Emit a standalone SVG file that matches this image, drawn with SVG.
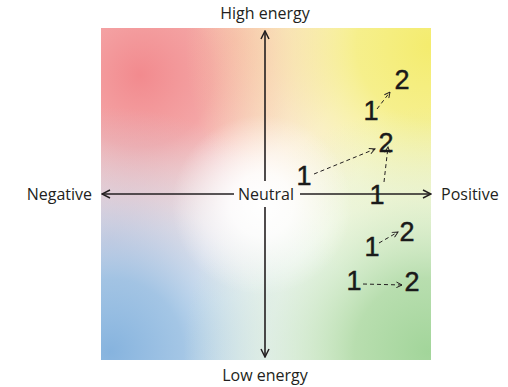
<svg xmlns="http://www.w3.org/2000/svg" width="508" height="387" viewBox="0 0 508 387">
<style>
.lbl{font-family:"Open Sans","Liberation Sans",sans-serif;font-size:16px;fill:#231f20}
.num{font-family:"Liberation Sans","DejaVu Sans",sans-serif;font-size:27px;fill:#1a1a1a;stroke:#1a1a1a;stroke-width:0.5}
.axis{stroke:#231f20;stroke-width:1.6;fill:none}
.dash{stroke:#231f20;stroke-width:1;stroke-dasharray:4 3;fill:none}
</style>
<defs>
<radialGradient id="gR" cx="140" cy="75" r="240" gradientUnits="userSpaceOnUse">
<stop offset="0" stop-color="#f28a8e"/><stop offset="0.3" stop-color="#f39e9f" stop-opacity="0.92"/><stop offset="0.65" stop-color="#f6bcb4" stop-opacity="0.4"/><stop offset="1" stop-color="#f6bcb4" stop-opacity="0"/>
</radialGradient>
<radialGradient id="gY" cx="430" cy="45" r="245" gradientUnits="userSpaceOnUse">
<stop offset="0" stop-color="#f4ec6e"/><stop offset="0.3" stop-color="#f5ee82" stop-opacity="0.92"/><stop offset="0.65" stop-color="#f8f2aa" stop-opacity="0.4"/><stop offset="1" stop-color="#f8f2aa" stop-opacity="0"/>
</radialGradient>
<radialGradient id="gB" cx="110" cy="352" r="245" gradientUnits="userSpaceOnUse">
<stop offset="0" stop-color="#86b3de"/><stop offset="0.3" stop-color="#9cc1e3" stop-opacity="0.92"/><stop offset="0.65" stop-color="#c4d8ee" stop-opacity="0.4"/><stop offset="1" stop-color="#c4d8ee" stop-opacity="0"/>
</radialGradient>
<radialGradient id="gG" cx="428" cy="352" r="245" gradientUnits="userSpaceOnUse">
<stop offset="0" stop-color="#a2d59a"/><stop offset="0.3" stop-color="#b2dba8" stop-opacity="0.92"/><stop offset="0.65" stop-color="#d0eac4" stop-opacity="0.4"/><stop offset="1" stop-color="#d0eac4" stop-opacity="0"/>
</radialGradient>
<radialGradient id="gO" cx="235" cy="40" r="120" gradientUnits="userSpaceOnUse">
<stop offset="0" stop-color="#f9c29c" stop-opacity="0.8"/><stop offset="1" stop-color="#f9c29c" stop-opacity="0"/>
</radialGradient>
<radialGradient id="gP" cx="110" cy="240" r="95" gradientUnits="userSpaceOnUse">
<stop offset="0" stop-color="#c8b4d4" stop-opacity="0.65"/><stop offset="1" stop-color="#c8b4d4" stop-opacity="0"/>
</radialGradient>
<radialGradient id="gW" cx="262" cy="205" r="90" gradientUnits="userSpaceOnUse">
<stop offset="0" stop-color="#ffffff"/><stop offset="0.35" stop-color="#ffffff" stop-opacity="0.85"/><stop offset="1" stop-color="#ffffff" stop-opacity="0"/>
</radialGradient>
<clipPath id="sq"><rect x="101" y="28" width="330" height="332"/></clipPath>
<marker id="ah" viewBox="0 0 10 10" refX="9" refY="5" markerWidth="10" markerHeight="10" markerUnits="userSpaceOnUse" orient="auto">
<path d="M1,1 L9,5 L1,9" fill="none" stroke="#231f20" stroke-width="1.5"/>
</marker>
<marker id="dh" viewBox="0 0 10 10" refX="9" refY="5" markerWidth="7" markerHeight="7" markerUnits="userSpaceOnUse" orient="auto">
<path d="M1,1 L9,5 L1,9" fill="none" stroke="#231f20" stroke-width="1.4"/>
</marker>
</defs>
<g id="background" clip-path="url(#sq)">
<rect x="101" y="28" width="330" height="332" fill="#ffffff"/>
<rect x="101" y="28" width="330" height="332" fill="url(#gP)"/>
<rect x="101" y="28" width="330" height="332" fill="url(#gO)"/>
<rect x="101" y="28" width="330" height="332" fill="url(#gR)"/>
<rect x="101" y="28" width="330" height="332" fill="url(#gY)"/>
<rect x="101" y="28" width="330" height="332" fill="url(#gB)"/>
<rect x="101" y="28" width="330" height="332" fill="url(#gG)"/>
<rect x="101" y="28" width="330" height="332" fill="url(#gW)"/>
</g>
<g id="connectors">
<path class="axis" d="M265,181 L265,31" marker-end="url(#ah)"/>
<path class="axis" d="M265,207 L265,357" marker-end="url(#ah)"/>
<path class="axis" d="M234,194 L102,194" marker-end="url(#ah)"/>
<path class="axis" d="M300,194 L431,194" marker-end="url(#ah)"/>
<path class="dash" d="M377,109 L390,92" marker-end="url(#dh)"/>
<path class="dash" d="M314,174 L375,149" marker-end="url(#dh)"/>
<path class="dash" d="M384,182 L388,147" marker-end="url(#dh)"/>
<path class="dash" d="M379,243 L398,232" marker-end="url(#dh)"/>
<path class="dash" d="M363,284 L402,285" marker-end="url(#dh)"/>
</g>
<g id="label-high"><text class="lbl" x="265" y="19" text-anchor="middle">High energy</text></g>
<g id="label-low"><text class="lbl" x="265" y="381" text-anchor="middle">Low energy</text></g>
<g id="label-negative"><text class="lbl" x="92" y="200" text-anchor="end">Negative</text></g>
<g id="label-positive"><text class="lbl" x="441" y="200">Positive</text></g>
<g id="label-neutral"><text class="lbl" x="266" y="200" text-anchor="middle">Neutral</text></g>
<g id="points">
<text class="num" x="402" y="89" text-anchor="middle">2</text>
<text class="num" x="371" y="120" text-anchor="middle">1</text>
<text class="num" x="386" y="152" text-anchor="middle">2</text>
<text class="num" x="304" y="185" text-anchor="middle">1</text>
<text class="num" x="377" y="204" text-anchor="middle">1</text>
<text class="num" x="407" y="241" text-anchor="middle">2</text>
<text class="num" x="372" y="256" text-anchor="middle">1</text>
<text class="num" x="354" y="290" text-anchor="middle">1</text>
<text class="num" x="412" y="291" text-anchor="middle">2</text>
</g>
</svg>
